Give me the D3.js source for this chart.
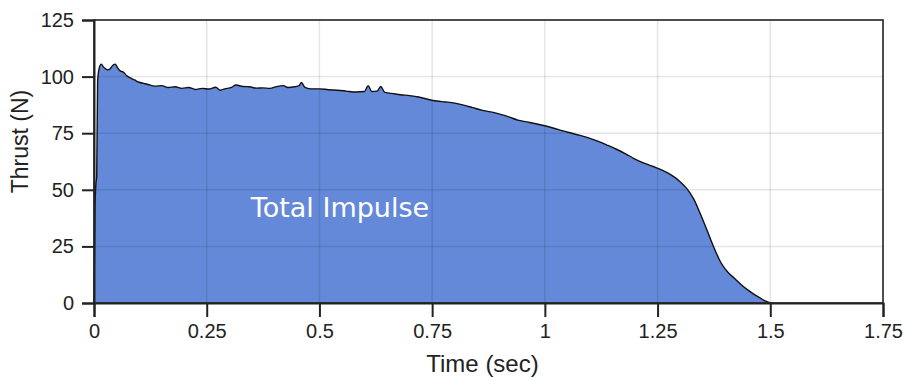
<!DOCTYPE html>
<html>
<head>
<meta charset="utf-8">
<script src="https://cdn.jsdelivr.net/npm/d3@7"></script>
<style>
  body { margin: 0; background: #fff; }
  #chart text { font-family: "Liberation Sans", Arial, sans-serif; fill: #222; }
</style>
</head>
<body>
<div id="chart"></div>
<script>
// thrust curve
const times = [0, 0.002, 0.004, 0.006, 0.008, 0.012, 0.016, 0.022, 0.03, 0.036, 0.042, 0.047, 0.052, 0.058, 0.065, 0.072,
  0.08, 0.09, 0.1, 0.11, 0.12, 0.135, 0.15, 0.165, 0.18, 0.195, 0.21, 0.225, 0.24, 0.255, 0.27, 0.28, 0.29, 0.305,
  0.315, 0.33, 0.345, 0.36, 0.375, 0.39, 0.405, 0.42, 0.43, 0.445, 0.455, 0.46, 0.468, 0.48, 0.5, 0.52, 0.54, 0.56,
  0.58, 0.6, 0.608, 0.616, 0.628, 0.636, 0.645, 0.66, 0.68, 0.7, 0.72, 0.74, 0.76, 0.78, 0.8, 0.82, 0.84, 0.86,
  0.88, 0.9, 0.92, 0.94, 0.96, 0.98, 1.0, 1.02, 1.04, 1.06, 1.08, 1.1, 1.12, 1.14, 1.16, 1.18, 1.2, 1.22, 1.24,
  1.26, 1.28, 1.3, 1.315, 1.33, 1.345, 1.36, 1.375, 1.39, 1.405, 1.42, 1.435, 1.45, 1.465, 1.48, 1.49, 1.5];
const thrust = [0, 40, 52, 56, 98, 104, 105.5, 104, 103, 103.5, 105, 105.5, 104, 102.5, 102, 100.5,
  99.5, 98.5, 97.5, 97, 96.5, 95.8, 96, 95.2, 95.5, 94.8, 95.2, 94.3, 94.8, 94.5, 95.3, 94, 94.6, 95.2,
  96.3, 95.6, 95.5, 94.9, 95, 94.8, 95.6, 96, 95.2, 95.5, 96, 97.4, 95.2, 94.6, 94.6, 94.2, 94, 93.6,
  93.2, 93.4, 96, 93.4, 93.6, 95.6, 93, 92.6, 92, 91.6, 91, 90, 89.2, 88.8, 88.3, 87.4, 86.3, 85.2,
  84.4, 83.4, 82.2, 80.8, 80, 79.2, 78.3, 77.2, 76, 75, 73.9, 72.7, 71.3, 69.6, 67.8, 65.8, 63.6, 61.8, 60.3,
  58.7, 56.6, 53.6, 50.5, 46, 39.3, 32, 24.5, 18, 13.8, 11, 8.2, 5.8, 3.7, 1.9, 0.8, 0];

const xTicks = [0, 0.25, 0.5, 0.75, 1, 1.25, 1.5, 1.75];
const yTicks = [0, 25, 50, 75, 100, 125];
const areaLabel = "Total Impulse";

const data = times.map((t, i) => ({ t: t, v: thrust[i] }));

const margin = { top: 20, right: 24, bottom: 76, left: 94 };
const width = 907 - margin.left - margin.right;
const height = 379 - margin.top - margin.bottom;

const svg = d3.select("#chart")
  .append("svg")
  .attr("width", 907)
  .attr("height", 379)
  .append("g")
  .attr("transform", `translate(${margin.left},${margin.top})`);

const x = d3.scaleLinear().domain([0, 1.75]).range([0, width]);
const y = d3.scaleLinear().domain([0, 125]).range([height, 0]);

// filled area + outline
const area = d3.area().curve(d3.curveMonotoneX).x(d => x(d.t)).y0(y(0)).y1(d => y(d.v));
const line = d3.line().curve(d3.curveMonotoneX).x(d => x(d.t)).y(d => y(d.v));

svg.append("path")
  .datum(data)
  .attr("fill", "#6489d9")
  .attr("d", area);

// grid on top of the fill, semi transparent
svg.append("g")
  .selectAll("line.vg")
  .data(xTicks.slice(1, -1))
  .join("line")
  .attr("x1", d => x(d)).attr("x2", d => x(d))
  .attr("y1", 0).attr("y2", height)
  .attr("stroke", "rgba(0,0,0,0.1)")
  .attr("stroke-width", 1.5);

svg.append("g")
  .selectAll("line.hg")
  .data(yTicks.slice(1, -1))
  .join("line")
  .attr("x1", 0).attr("x2", width)
  .attr("y1", d => y(d)).attr("y2", d => y(d))
  .attr("stroke", "rgba(0,0,0,0.1)")
  .attr("stroke-width", 1.5);

svg.append("path")
  .datum(data)
  .attr("fill", "none")
  .attr("stroke", "#111")
  .attr("stroke-width", 1.4)
  .attr("d", line);

svg.append("text")
  .attr("x", x(0.35) - 1)
  .attr("y", y(38))
  .style("font-family", "'DejaVu Sans', Verdana, sans-serif")
  .style("font-size", "27px")
  .style("fill", "#fff")
  .text(areaLabel);

// frame
svg.append("rect")
  .attr("width", width)
  .attr("height", height)
  .attr("fill", "none")
  .attr("stroke", "#222")
  .attr("stroke-width", 1.6);

// axes
const xAxis = svg.append("g")
  .attr("transform", `translate(0,${height})`)
  .call(d3.axisBottom(x).tickValues(xTicks).tickFormat(d3.format("")).tickSize(14).tickPadding(7));

const yAxis = svg.append("g")
  .call(d3.axisLeft(y).tickValues(yTicks).tickSize(12).tickPadding(8));

[xAxis, yAxis].forEach(a => {
  a.select(".domain").attr("stroke", "#222").attr("stroke-width", 2);
  a.selectAll(".tick line").attr("stroke", "#222").attr("stroke-width", 2);
  a.selectAll(".tick text").style("font-size", "20px").style("fill", "#222");
});

svg.append("text")
  .attr("x", width / 2 - 6)
  .attr("y", height + 69)
  .attr("text-anchor", "middle")
  .style("font-size", "24px")
  .text("Time (sec)");

svg.append("text")
  .attr("transform", "rotate(-90)")
  .attr("x", -(y(62.5) - 20))
  .attr("y", -66)
  .attr("text-anchor", "middle")
  .style("font-size", "23px")
  .text("Thrust (N)");
</script>
</body>
</html>
